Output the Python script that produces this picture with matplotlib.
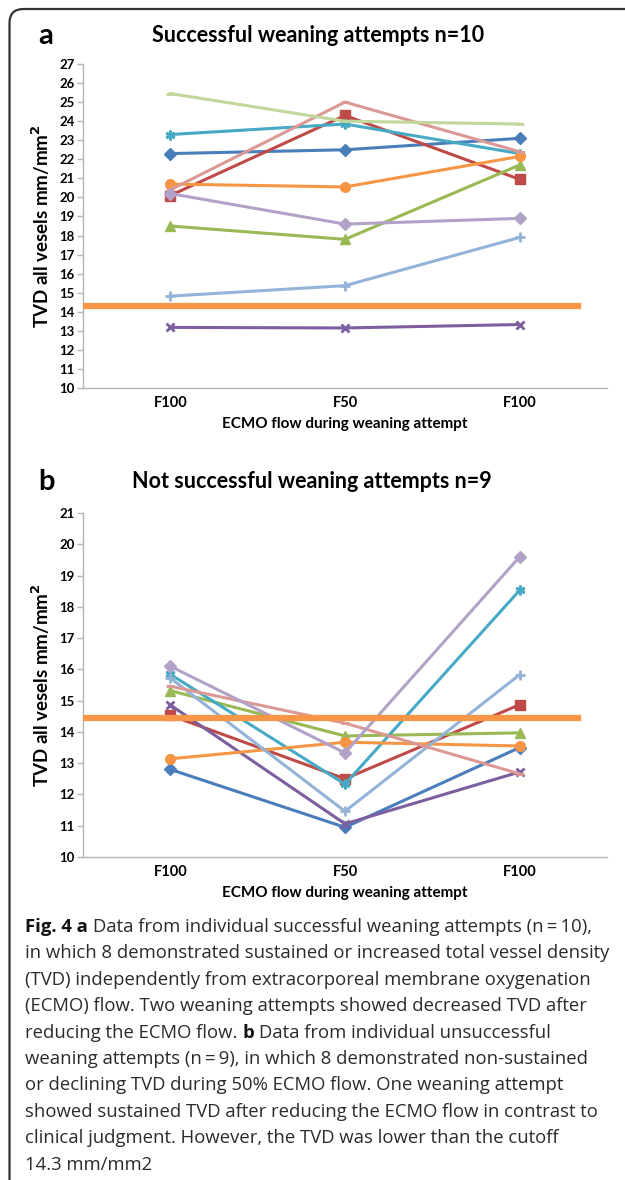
import matplotlib.pyplot as plt
from matplotlib.patches import FancyBboxPatch

# categories on the x axis
flow_cats = ['F100', 'F50', 'F100']

# panel a: successful weaning attempts (TVD mm/mm2 at F100, F50, F100)
a_blue = [22.3, 22.5, 23.1]
a_red = [20.1, 24.3, 20.95]
a_green = [18.5, 17.8, 21.7]
a_purple = [13.18, 13.15, 13.33]
a_aqua = [23.3, 23.85, 22.3]
a_orange = [20.7, 20.55, 22.15]
a_lblue = [14.82, 15.37, 17.9]
a_lred = [20.4, 25.0, 22.4]
a_lgreen = [25.45, 24.0, 23.85]
a_lpurple = [20.2, 18.6, 18.9]

# panel b: not successful weaning attempts
b_blue = [12.8, 10.95, 13.5]
b_red = [14.53, 12.5, 14.87]
b_green = [15.32, 13.87, 13.97]
b_purple = [14.86, 11.06, 12.72]
b_aqua = [15.84, 12.33, 18.53]
b_orange = [13.14, 13.67, 13.55]
b_lblue = [15.72, 11.46, 15.83]
b_lred = [15.46, 14.28, 12.66]
b_lpurple = [16.1, 13.33, 19.6]

cutoff_a = 14.3
cutoff_b = 14.44

# excel-like styles
styles = {
    'blue': ('#4A7EBB', 'D', 6),
    'red': ('#BE4B48', 's', 6.5),
    'green': ('#98B954', '^', 7),
    'purple': ('#7D5FA0', 'x', 6),
    'aqua': ('#46AAC5', (6, 2, 0), 7),
    'orange': ('#F69544', 'o', 7),
    'lblue': ('#93B3D9', '+', 7),
    'lred': ('#DB9995', '_', 6),
    'lgreen': ('#C3D69B', '_', 6),
    'lpurple': ('#B3A2C7', 'D', 6),
}

series_a = [('blue', a_blue), ('red', a_red), ('green', a_green), ('purple', a_purple),
            ('aqua', a_aqua), ('orange', a_orange), ('lblue', a_lblue), ('lred', a_lred),
            ('lgreen', a_lgreen), ('lpurple', a_lpurple)]
series_b = [('blue', b_blue), ('red', b_red), ('green', b_green), ('purple', b_purple),
            ('aqua', b_aqua), ('orange', b_orange), ('lblue', b_lblue), ('lred', b_lred),
            ('lpurple', b_lpurple)]

W, H = 625, 1180
fig = plt.figure(figsize=(W / 100, H / 100), dpi=100)

tick_font = dict(family=['Lato', 'DejaVu Sans'], fontweight='bold')


def panel(rect, series, cutoff, ymin, ymax, letter, title, letter_y, title_x):
    ax = fig.add_axes(rect)
    x = range(len(flow_cats))
    for key, vals in series:
        c, m, ms = styles[key]
        ax.plot(x, vals, color=c, lw=2.2, marker=m, ms=ms, mew=2 if m in ('x', '+', '_', (6, 2, 0)) else 1,
                mfc=c, mec=c, zorder=3)
    ax.axhline(cutoff, xmin=0.005, xmax=0.945, color='#F79646', lw=4.5, zorder=4)
    ax.set_xlim(-0.5, 2.5)
    ax.set_ylim(ymin, ymax)
    ax.set_yticks(range(ymin, ymax + 1))
    ax.set_xticks(list(x))
    ax.set_xticklabels(flow_cats, fontsize=10.5, **tick_font)
    for lab in ax.get_yticklabels():
        lab.set_fontsize(9.5)
        lab.set_fontweight('bold')
        lab.set_family(['Lato', 'DejaVu Sans'])
    for s in ('top', 'right'):
        ax.spines[s].set_visible(False)
    for s in ('left', 'bottom'):
        ax.spines[s].set_color('#B5B5B5')
        ax.spines[s].set_linewidth(1)
    ax.tick_params(axis='y', length=4, width=1, color='#B5B5B5', pad=2)
    ax.tick_params(axis='x', length=0, pad=6)
    ax.set_xlabel('ECMO flow during weaning attempt', fontsize=11, labelpad=5, **tick_font)
    ax.set_ylabel('TVD all vesels mm/mm$^\\mathbf{2}$', fontsize=13.5, labelpad=5, **tick_font)
    fig.text(38 / W, 1 - letter_y / H, letter, fontsize=21, fontweight='bold',
             family=['Lato', 'DejaVu Sans'], va='center')
    fig.text(title_x / W, 1 - letter_y / H, title, fontsize=15.5, fontweight='bold',
             family=['Lato', 'DejaVu Sans'], va='center', ha='center')
    return ax


panel([83 / W, 1 - 388 / H, 524 / W, 324 / H], series_a, cutoff_a, 10, 27,
      'a', 'Successful weaning attempts n=10', 36, 318)
panel([83 / W, 1 - 857 / H, 524 / W, 344 / H], series_b, cutoff_b, 10, 21,
      'b', 'Not successful weaning attempts n=9', 482, 312)

# frame round the figure (only left and top edges visible)
frame = FancyBboxPatch((0.095, -1.0), 8.0, 12.71, boxstyle='round,pad=0,rounding_size=0.14',
                       transform=fig.dpi_scale_trans, fill=False, ec='#333333', lw=1.6)
fig.patches.append(frame)

# caption with bold runs
cap_lines = [
    [('Fig. 4 a', 'bold'), ('Data from individual successful weaning attempts (n\u2009=\u200910),', 'normal')],
    [('in which 8 demonstrated sustained or increased total vessel density', 'normal')],
    [('(TVD) independently from extracorporeal membrane oxygenation', 'normal')],
    [('(ECMO) flow. Two weaning attempts showed decreased TVD after', 'normal')],
    [('reducing the ECMO flow.', 'normal'), ('b', 'bold'), ('Data from individual unsuccessful', 'normal')],
    [('weaning attempts (n\u2009=\u20099), in which 8 demonstrated non-sustained', 'normal')],
    [('or declining TVD during 50% ECMO flow. One weaning attempt', 'normal')],
    [('showed sustained TVD after reducing the ECMO flow in contrast to', 'normal')],
    [('clinical judgment. However, the TVD was lower than the cutoff', 'normal')],
    [('14.3 mm/mm2', 'normal')],
]
cap_font = ['Open Sans', 'DejaVu Sans']
cap_size = 13.3
renderer = fig.canvas.get_renderer()
sp = fig.text(0, 0, 'a a', fontsize=cap_size, family=cap_font)
sp2 = fig.text(0, 0, 'aa', fontsize=cap_size, family=cap_font)
space_w = sp.get_window_extent(renderer).width - sp2.get_window_extent(renderer).width
sp.remove()
sp2.remove()
for i, runs in enumerate(cap_lines):
    y = 1 - (927 + 26.4 * i) / H
    xpix = 25
    for txt, wt in runs:
        t = fig.text(xpix / W, y, txt, fontsize=cap_size, fontweight=wt, family=cap_font,
                     va='center', color='#111111' if wt == 'bold' else '#2B2B2B')
        xpix += t.get_window_extent(renderer).width + space_w

fig.savefig('out.png', dpi=100)
